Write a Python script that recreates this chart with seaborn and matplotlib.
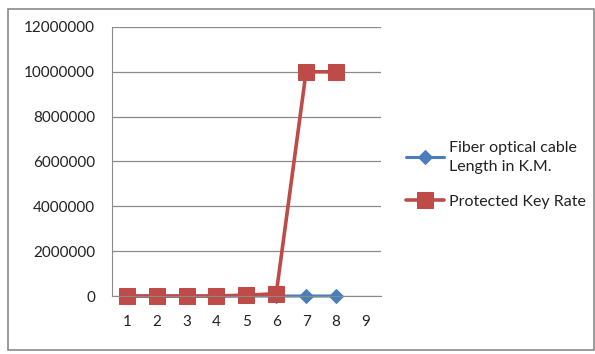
import matplotlib
matplotlib.use("Agg")
import matplotlib.pyplot as plt
import seaborn as sns
import pandas as pd
from matplotlib.patches import Rectangle

# values
positions = [1, 2, 3, 4, 5, 6, 7, 8]
cable_length_km = [10, 20, 30, 40, 50, 60, 70, 80]
key_rate = [0, 0, 0, 0, 40000, 100000, 10000000, 10000000]
category_labels = ["1", "2", "3", "4", "5", "6", "7", "8", "9"]
y_ticks = [0, 2000000, 4000000, 6000000, 8000000, 10000000, 12000000]

blue = "#4A7EBB"
red = "#BE4B48"

sns.set_style("white")
plt.rcParams["font.family"] = ["Lato", "DejaVu Sans"]

df = pd.DataFrame({"x": positions, "cable": cable_length_km, "rate": key_rate})

fig = plt.figure(figsize=(5.95, 3.54), dpi=100)
ax = fig.add_axes([0.188, 0.1638, 0.452, 0.76])

sns.lineplot(data=df, x="x", y="cable", ax=ax, color=blue, marker="D",
             markersize=7.5, markeredgecolor=blue, linewidth=2.2, clip_on=False,
             label="Fiber optical cable\nLength in K.M.")
sns.lineplot(data=df, x="x", y="rate", ax=ax, color=red, marker="s",
             markersize=11, markeredgecolor=red, linewidth=2.6, clip_on=False,
             label="Protected Key Rate")

ax.set_xlim(0.5, 9.5)
ax.set_ylim(0, 12000000)
ax.set_yticks(y_ticks)
ax.set_yticklabels([str(v) for v in y_ticks])
ax.set_xticks(range(1, 10))
ax.set_xticklabels(category_labels)
ax.set_xticks([i + 0.5 for i in range(0, 10)], minor=True)
ax.tick_params(axis="x", which="major", length=0, pad=14, labelsize=11, colors="#222222")
ax.tick_params(axis="x", which="minor", length=5, direction="inout", color="#888888", width=1)
ax.tick_params(axis="y", length=6, direction="out", color="#888888", width=1,
               labelsize=11, colors="#222222", pad=6)
ax.yaxis.grid(True, color="#8a8a8a", linewidth=0.9)
ax.set_axisbelow(True)
for side in ["top", "right"]:
    ax.spines[side].set_visible(False)
ax.spines["left"].set_color("#8a8a8a")
ax.spines["bottom"].set_color("#8a8a8a")
ax.set_xlabel("")
ax.set_ylabel("")

leg = ax.legend(loc="center left", bbox_to_anchor=(1.04, 0.45), frameon=False,
                fontsize=11.5, handlelength=2.4, labelspacing=1.3, handletextpad=0.3)
for t in leg.get_texts():
    t.set_color("#222222")
    t.set_linespacing(1.45)

# outer chart border
fig.patches.append(Rectangle((0.014, 0.01), 0.985, 0.965, transform=fig.transFigure,
                             fill=False, edgecolor="#8a8a8a", linewidth=1.2))

fig.savefig("out.png", dpi=100)
